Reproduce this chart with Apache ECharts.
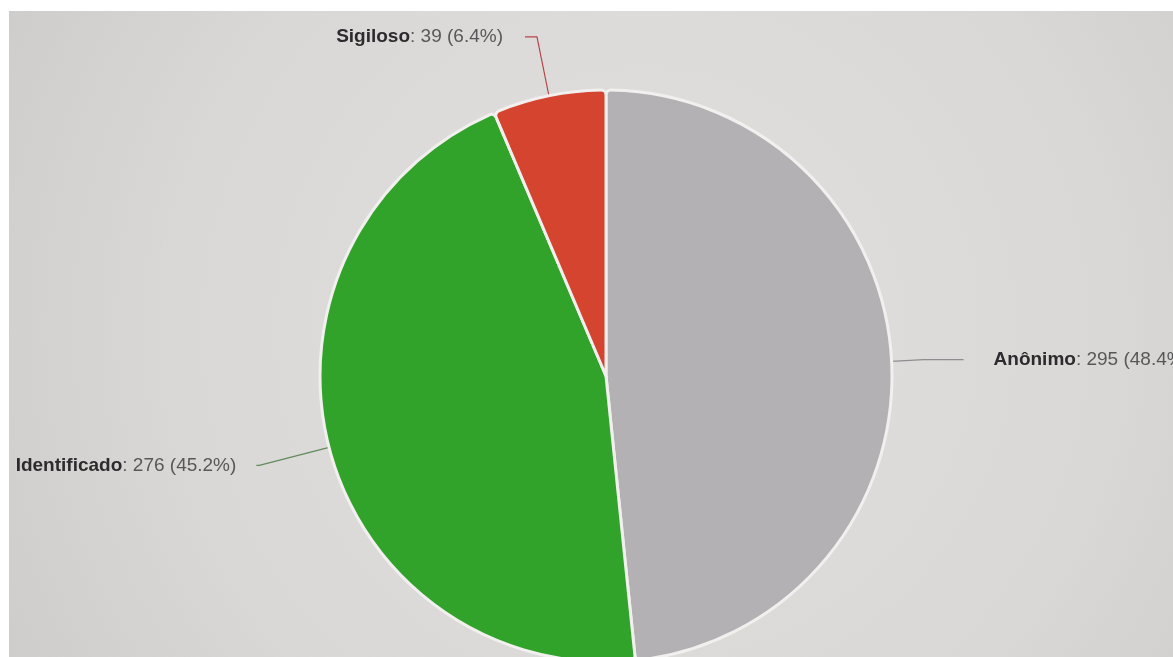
<!DOCTYPE html>
<html>
<head>
<meta charset="utf-8">
<script src="https://cdn.jsdelivr.net/npm/echarts@6/dist/echarts.min.js"></script>
<style>
html,body{margin:0;padding:0;background:#dcdbd9;}
#c{width:1173px;height:657px;}
</style>
</head>
<body>
<div id="c"></div>
<script>
const categories = ['Anônimo', 'Identificado', 'Sigiloso'];
const values = [295, 276, 39];
const colors = ['#b3b1b3', '#31a22a', '#d5442f'];
const lineColors = ['#8f8d8f', '#5f8a5a', '#b8444a'];

const lineLen = [[32, 40], [72, 3], [60, 12]];
const labelGap = [30, 20, 22];

const data = categories.map((name, i) => ({
  name: name,
  value: values[i],
  itemStyle: { color: colors[i] },
  labelLine: { length: lineLen[i][0], length2: lineLen[i][1], lineStyle: { color: lineColors[i], width: 1.2 } },
  label: { distanceToLabelLine: labelGap[i] }
}));

const chart = echarts.init(document.getElementById('c'));
chart.setOption({
  backgroundColor: {
    type: 'radial', x: 0.55, y: 0.5, r: 1.3,
    colorStops: [{ offset: 0, color: '#e2e0de' }, { offset: 0.55, color: '#dad8d6' }, { offset: 1, color: '#c9c7c6' }]
  },
  animation: false,
  graphic: [
    { type: 'rect', left: 0, top: 0, shape: { width: 1173, height: 11 }, style: { fill: '#ffffff' }, z: -1 },
    { type: 'rect', left: 0, top: 0, shape: { width: 9, height: 657 }, style: { fill: '#ffffff' }, z: -1 }
  ],
  series: [{
    type: 'pie',
    center: [606, 376],
    radius: 286,
    startAngle: 90,
    clockwise: true,
    percentPrecision: 1,
    avoidLabelOverlap: false,
    itemStyle: { borderColor: '#f2f0ee', borderWidth: 3, borderRadius: 5 },
    label: {
      show: true,
      position: 'outside',
      overflow: 'none',
      formatter: '{b|{b}}: {c} ({d}%)',
      fontFamily: 'Liberation Sans, Arial, sans-serif',
      fontSize: 19,
      color: '#58585a',
      rich: {
        b: { fontWeight: 'bold', color: '#2c2c2e', fontSize: 19, fontFamily: 'Liberation Sans, Arial, sans-serif' }
      }
    },
    labelLine: { show: true, smooth: false },
    data: data
  }]
});
</script>
</body>
</html>
